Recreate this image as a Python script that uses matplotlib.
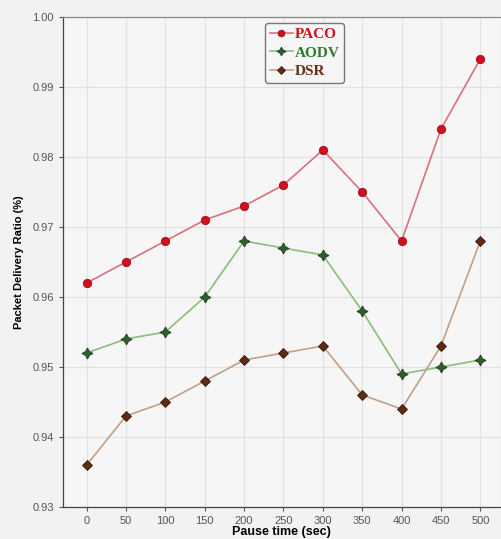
import numpy as np
import matplotlib
matplotlib.use("Agg")
import matplotlib.pyplot as plt

pause = [0, 50, 100, 150, 200, 250, 300, 350, 400, 450, 500]
paco = [0.962, 0.965, 0.968, 0.971, 0.973, 0.976, 0.981, 0.975, 0.968, 0.984, 0.994]
aodv = [0.952, 0.954, 0.955, 0.960, 0.968, 0.967, 0.966, 0.958, 0.949, 0.950, 0.951]
dsr = [0.936, 0.943, 0.945, 0.948, 0.951, 0.952, 0.953, 0.946, 0.944, 0.953, 0.968]

plt.rcParams['font.family'] = ['Liberation Sans', 'DejaVu Sans']
fig = plt.figure(figsize=(5.02, 5.39), dpi=100, facecolor='#f2f2f2')
ax = fig.add_axes([63/502, 1-507/539, 437/502, 490/539])
ax.set_facecolor('#f6f6f6')

ax.plot(pause, paco, color='#d9707c', lw=1.2, marker='o', ms=6,
        mfc='#d0101c', mec='#a01018', mew=0.6, label='PACO')
ax.plot(pause, aodv, color='#8cbc7c', lw=1.2, marker=(4, 1, 0), ms=8,
        mfc='#2f5e2f', mec='#1f401f', mew=0.6, label='AODV')
ax.plot(pause, dsr, color='#c0a088', lw=1.2, marker='D', ms=5,
        mfc='#5e2c14', mec='#3a1a08', mew=0.6, label='DSR')

ax.set_xlim(-30, 525)
ax.set_ylim(0.93, 1.00)
ax.set_xticks(pause)
ax.set_yticks(np.arange(0.93, 1.0001, 0.01))
ax.yaxis.set_major_formatter(matplotlib.ticker.FormatStrFormatter('%.2f'))
ax.tick_params(labelsize=8, colors='#555555', length=3, width=0.8)
ax.grid(True, color='#e2e2e2', lw=0.9)
ax.set_axisbelow(True)
for s in ['left', 'bottom', 'top']:
    ax.spines[s].set_color('#444444')
    ax.spines[s].set_linewidth(0.9)
ax.spines['top'].set_color('#888888')
ax.spines['right'].set_visible(False)

ax.set_xlabel('Pause time (sec)', fontsize=9, fontweight='bold', labelpad=0)
ax.set_ylabel('Packet Delivery Ratio (%)', fontsize=8, fontweight='bold', labelpad=6)

leg = ax.legend(loc='upper center', bbox_to_anchor=(0.553, 1.003), fancybox=True,
                prop={'family': 'Liberation Serif', 'weight': 'bold', 'size': 11},
                handlelength=1.5, handletextpad=0.1, borderpad=0.3,
                labelspacing=0.3, framealpha=1, facecolor='#f6f6f6',
                edgecolor='#777777', markerscale=0.8)
for t, c in zip(leg.get_texts(), ['#d0101c', '#2f7a2f', '#6a2c14']):
    t.set_color(c)

fig.savefig('out.png', dpi=100, facecolor=fig.get_facecolor())
